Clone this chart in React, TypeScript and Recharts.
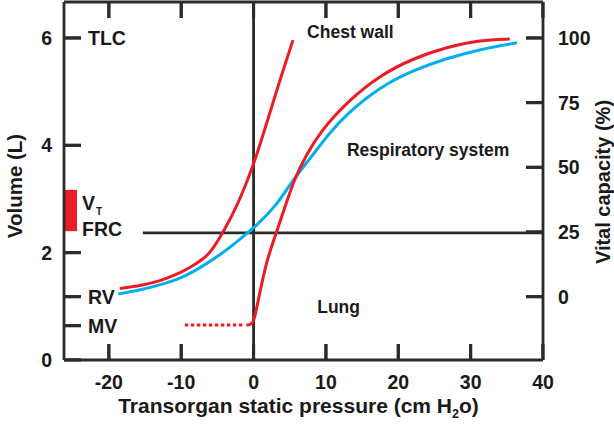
import React from 'react';
import {
  ComposedChart,
  Line,
  Scatter,
  XAxis,
  YAxis,
  ReferenceLine,
  ReferenceArea,
  ReferenceDot,
} from 'recharts';

// ---- axes / ticks ----
const pressureTicks = [-20, -10, 0, 10, 20, 30, 40];
const volumeTicks = [0, 0.64, 1.18, 2, 4, 6];
const volumeTickNumbers = ['0', '', '', '2', '4', '6'];
const volumeTickNames = ['', 'MV', 'RV', '', '', 'TLC'];
const vcTicks = [0, 25, 50, 75, 100];

// ---- key volumes (L) ----
const RV = 1.18;
const TLC = 6;
const FRC = 2.37;
const VT_TOP = 3.17;
const VT_BOTTOM = 2.4;

// ---- curves: pressure (cm H2O) vs volume (L) ----
const chestWall = [
  { p: -18.5, v: 1.33 },
  { p: -15.5, v: 1.39 },
  { p: -12.9, v: 1.47 },
  { p: -10.5, v: 1.6 },
  { p: -8.8, v: 1.72 },
  { p: -7.2, v: 1.86 },
  { p: -6, v: 1.99 },
  { p: -4.2, v: 2.38 },
  { p: -2.3, v: 2.86 },
  { p: -0.7, v: 3.4 },
  { p: 0.2, v: 3.72 },
  { p: 1.85, v: 4.43 },
  { p: 3.6, v: 5.2 },
  { p: 5.45, v: 5.96 },
];

const respiratorySystem = [
  { p: -18.7, v: 1.23 },
  { p: -15.8, v: 1.3 },
  { p: -12.9, v: 1.4 },
  { p: -10.5, v: 1.5 },
  { p: -8.3, v: 1.64 },
  { p: -4.6, v: 1.96 },
  { p: -2.5, v: 2.18 },
  { p: -0.95, v: 2.36 },
  { p: 0.2, v: 2.48 },
  { p: 3.2, v: 2.88 },
  { p: 5.5, v: 3.37 },
  { p: 7.8, v: 3.75 },
  { p: 10.3, v: 4.2 },
  { p: 12.9, v: 4.59 },
  { p: 17.5, v: 5.09 },
  { p: 22.1, v: 5.4 },
  { p: 26.7, v: 5.62 },
  { p: 31.3, v: 5.79 },
  { p: 36.4, v: 5.91 },
];

const lung = [
  { p: -1.0, v: 0.65 },
  { p: -0.3, v: 0.66 },
  { p: 0.1, v: 0.74 },
  { p: 0.65, v: 1.12 },
  { p: 1.8, v: 1.86 },
  { p: 3.2, v: 2.39 },
  { p: 4.5, v: 2.92 },
  { p: 5.8, v: 3.42 },
  { p: 7.2, v: 3.8 },
  { p: 9.2, v: 4.25 },
  { p: 12.9, v: 4.81 },
  { p: 17.5, v: 5.31 },
  { p: 22.1, v: 5.62 },
  { p: 26.7, v: 5.83 },
  { p: 31.3, v: 5.96 },
  { p: 35.4, v: 5.98 },
];

const lungCollapsed = [
  { p: -9.5, v: 0.65 },
  { p: -1.2, v: 0.65 },
];

// ---- domains ----
const P_MIN = -26.2;
const P_MAX = 40;
const V_MIN = 0;
const V_MAX = 6.67;
const vcDomain = [
  ((V_MIN - RV) / (TLC - RV)) * 100,
  ((V_MAX - RV) / (TLC - RV)) * 100,
];

// ---- tick mark anchor points (built from the tick arrays) ----
const bottomTickPts = pressureTicks.map((p) => ({ p, v: V_MIN }));
const topTickPts = pressureTicks.map((p) => ({ p, v: V_MAX }));
const leftTickPts = volumeTicks.map((v) => ({ p: P_MIN, v }));
const rightTickPts = vcTicks.map((c) => ({ p: P_MAX, v: RV + (c / 100) * (TLC - RV) }));

// ---- layout (px) ----
const CHART_W = 614;
const CHART_H = 432;
const TOP_H = 2;
const BOTTOM_H = 72;
const PLOT_H = CHART_H - TOP_H - BOTTOM_H;
const TICK_PX = 16;
const TICK_PX_H = 17;
// horizontal inward tick length in pressure units (~17 px)
const TICK_P = 2.35;

// ---- annotation anchors (data coords) ----
const FRC_LINE_START = -15.3;
const VT_BAR_RIGHT = -24.4;
const labelChestWall = { p: 7.4, v: 6.11 };
const labelResp = { p: 12.9, v: 3.91 };
const labelLung = { p: 8.8, v: 1.0 };
const labelVT = { p: -23.7, v: 2.92 };
const labelFRC = { p: -23.7, v: 2.45 };

const RED = '#ED1C24';
const BLUE = '#00AEEF';
const INK = '#1a1a1a';
const AXIS = '#2b2b2b';
const FONT = '"Liberation Sans", Arial, Helvetica, sans-serif';
const TICK_FS = 19.5;
const AXIS_W = 2.8;
const TICK_W = 3;

const txt = {
  fontWeight: 'bold' as const,
  fontFamily: FONT,
  fill: INK,
};

const tickShape = (dx: number, dy: number) => (props: any) => {
  const { cx, cy } = props;
  if (typeof cx !== 'number' || typeof cy !== 'number') return <g />;
  return (
    <line
      x1={cx}
      y1={cy}
      x2={cx + dx}
      y2={cy + dy}
      stroke={AXIS}
      strokeWidth={TICK_W}
    />
  );
};

const LeftTick = (props: any) => {
  const { x, y, payload } = props;
  const i = volumeTicks.indexOf(payload.value);
  return (
    <g>
      <text x={x - 12} y={y} dy="0.36em" textAnchor="end" fontSize={TICK_FS} {...txt}>
        {volumeTickNumbers[i]}
      </text>
      <text x={x + 24} y={y} dy="0.36em" textAnchor="start" fontSize={TICK_FS} {...txt}>
        {volumeTickNames[i]}
      </text>
    </g>
  );
};

const RightTick = (props: any) => {
  const { x, y, payload } = props;
  return (
    <text x={x + 15} y={y} dy="0.36em" textAnchor="start" fontSize={TICK_FS} {...txt}>
      {payload.value}
    </text>
  );
};

const BottomTick = (props: any) => {
  const { x, y, payload } = props;
  return (
    <text x={x} y={y + 15.5} dy="0.71em" textAnchor="middle" fontSize={TICK_FS} {...txt}>
      {payload.value}
    </text>
  );
};

const textLabel = (label: string, size: number) => (props: any) => {
  const vb = props.viewBox || {};
  return (
    <text x={vb.x} y={vb.y} dy="0.36em" textAnchor="start" fontSize={size} {...txt}>
      {label}
    </text>
  );
};

const vtLabel = (props: any) => {
  const vb = props.viewBox || {};
  return (
    <text x={vb.x} y={vb.y} dy="0.36em" textAnchor="start" fontSize={TICK_FS} {...txt}>
      V
      <tspan fontSize={10} dy={5} dx={1}>
        T
      </tspan>
    </text>
  );
};

const volumeTitle = (props: any) => {
  const vb = props.viewBox || { x: 0, y: 0, width: 64, height: PLOT_H };
  const cx = vb.x + 15;
  const cy = vb.y + vb.height / 2 + 5;
  return (
    <text
      x={cx}
      y={cy}
      transform={`rotate(-90, ${cx}, ${cy})`}
      textAnchor="middle"
      dy="0.36em"
      fontSize={20.5}
      {...txt}
    >
      Volume (L)
    </text>
  );
};

const vcTitle = (props: any) => {
  const vb = props.viewBox || { x: 543, y: 0, width: 71, height: PLOT_H };
  const cx = vb.x + 60;
  const cy = vb.y + vb.height / 2 + 1;
  return (
    <text
      x={cx}
      y={cy}
      transform={`rotate(-90, ${cx}, ${cy})`}
      textAnchor="middle"
      dy="0.36em"
      fontSize={20}
      {...txt}
    >
      Vital capacity (%)
    </text>
  );
};

const pressureTitle = (props: any) => {
  const vb = props.viewBox || { x: 64, y: 360, width: 479, height: BOTTOM_H };
  const cx = vb.x + vb.width / 2 - 5;
  const cy = vb.y + 45;
  return (
    <text x={cx} y={cy} textAnchor="middle" dy="0.36em" fontSize={21} {...txt}>
      Transorgan static pressure (cm H
      <tspan fontSize={12.5} dy={5}>
        2
      </tspan>
      <tspan dy={-5}>o)</tspan>
    </text>
  );
};

const tickStroke = { stroke: AXIS, strokeWidth: TICK_W, ifOverflow: 'visible' as const };
const verticalTickDash = `${TICK_PX} ${PLOT_H - 2 * TICK_PX} ${TICK_PX} ${PLOT_H}`;

export default function App() {
  return (
    <div style={{ position: 'absolute', left: 0, top: 0, background: '#fff' }}>
      <ComposedChart
        width={CHART_W}
        height={CHART_H}
        margin={{ top: 0, right: 0, bottom: 0, left: 0 }}
      >
        <XAxis
          xAxisId="bottom"
          dataKey="p"
          type="number"
          domain={[P_MIN, P_MAX]}
          ticks={pressureTicks}
          interval={0}
          allowDataOverflow
          height={BOTTOM_H}
          tickSize={0}
          tickMargin={0}
          tickLine={false}
          stroke={AXIS}
          strokeWidth={AXIS_W}
          tick={<BottomTick />}
          label={pressureTitle}
        />
        <XAxis
          xAxisId="top"
          orientation="top"
          dataKey="p"
          type="number"
          domain={[P_MIN, P_MAX]}
          ticks={pressureTicks}
          interval={0}
          allowDataOverflow
          height={TOP_H}
          tick={false}
          tickLine={false}
          stroke={AXIS}
          strokeWidth={AXIS_W}
        />
        <YAxis
          yAxisId="left"
          dataKey="v"
          type="number"
          domain={[V_MIN, V_MAX]}
          ticks={volumeTicks}
          interval={0}
          allowDataOverflow
          width={64}
          tickSize={0}
          tickMargin={0}
          tickLine={false}
          stroke={AXIS}
          strokeWidth={AXIS_W}
          tick={<LeftTick />}
          label={volumeTitle}
        />
        <YAxis
          yAxisId="right"
          orientation="right"
          type="number"
          domain={vcDomain}
          ticks={vcTicks}
          interval={0}
          allowDataOverflow
          width={71}
          tickSize={0}
          tickMargin={0}
          tickLine={false}
          stroke={AXIS}
          strokeWidth={AXIS_W}
          tick={<RightTick />}
          label={vcTitle}
        />

        <ReferenceArea
          xAxisId="bottom"
          yAxisId="left"
          x1={P_MIN}
          x2={VT_BAR_RIGHT}
          y1={VT_BOTTOM}
          y2={VT_TOP}
          fill={RED}
          fillOpacity={1}
          stroke="none"
        />

        {pressureTicks.map((p) => (
          <ReferenceLine
            key={`vt${p}`}
            xAxisId="bottom"
            yAxisId="left"
            x={p}
            stroke={AXIS}
            strokeWidth={TICK_W}
            strokeDasharray={verticalTickDash}
            ifOverflow="visible"
          />
        ))}
        {volumeTicks.map((v) => (
          <ReferenceLine
            key={`l${v}`}
            xAxisId="bottom"
            yAxisId="left"
            segment={[
              { x: P_MIN, y: v },
              { x: P_MIN + TICK_P, y: v },
            ]}
            {...tickStroke}
          />
        ))}
        {vcTicks.map((c) => (
          <ReferenceLine
            key={`r${c}`}
            xAxisId="bottom"
            yAxisId="right"
            segment={[
              { x: P_MAX - TICK_P, y: c },
              { x: P_MAX, y: c },
            ]}
            {...tickStroke}
          />
        ))}

        <ReferenceLine xAxisId="bottom" yAxisId="left" x={0} stroke={AXIS} strokeWidth={AXIS_W} />
        <ReferenceLine
          xAxisId="bottom"
          yAxisId="left"
          segment={[
            { x: FRC_LINE_START, y: FRC },
            { x: P_MAX, y: FRC },
          ]}
          stroke={AXIS}
          strokeWidth={AXIS_W}
        />

        <Scatter
          xAxisId="bottom"
          yAxisId="left"
          data={bottomTickPts}
          dataKey="v"
          shape={tickShape(0, -TICK_PX)}
          legendType="none"
          isAnimationActive={false}
        />
        <Scatter
          xAxisId="bottom"
          yAxisId="left"
          data={topTickPts}
          dataKey="v"
          shape={tickShape(0, TICK_PX)}
          legendType="none"
          isAnimationActive={false}
        />
        <Scatter
          xAxisId="bottom"
          yAxisId="left"
          data={leftTickPts}
          dataKey="v"
          shape={tickShape(TICK_PX_H, 0)}
          legendType="none"
          isAnimationActive={false}
        />
        <Scatter
          xAxisId="bottom"
          yAxisId="left"
          data={rightTickPts}
          dataKey="v"
          shape={tickShape(-TICK_PX_H, 0)}
          legendType="none"
          isAnimationActive={false}
        />

        <Line
          xAxisId="bottom"
          yAxisId="left"
          data={respiratorySystem}
          dataKey="v"
          type="basis"
          stroke={BLUE}
          strokeWidth={3}
          dot={false}
          activeDot={false}
          isAnimationActive={false}
        />
        <Line
          xAxisId="bottom"
          yAxisId="left"
          data={chestWall}
          dataKey="v"
          type="basis"
          stroke={RED}
          strokeWidth={3}
          dot={false}
          activeDot={false}
          isAnimationActive={false}
        />
        <Line
          xAxisId="bottom"
          yAxisId="left"
          data={lung}
          dataKey="v"
          type="basis"
          stroke={RED}
          strokeWidth={3}
          dot={false}
          activeDot={false}
          isAnimationActive={false}
        />
        <Line
          xAxisId="bottom"
          yAxisId="left"
          data={lungCollapsed}
          dataKey="v"
          type="linear"
          stroke={RED}
          strokeWidth={3}
          strokeDasharray="3.5 2.5"
          dot={false}
          activeDot={false}
          isAnimationActive={false}
        />

        <ReferenceDot
          xAxisId="bottom"
          yAxisId="left"
          x={labelChestWall.p}
          y={labelChestWall.v}
          r={0}
          fill="none"
          stroke="none"
          label={textLabel('Chest wall', 17.5)}
        />
        <ReferenceDot
          xAxisId="bottom"
          yAxisId="left"
          x={labelResp.p}
          y={labelResp.v}
          r={0}
          fill="none"
          stroke="none"
          label={textLabel('Respiratory system', 17.5)}
        />
        <ReferenceDot
          xAxisId="bottom"
          yAxisId="left"
          x={labelLung.p}
          y={labelLung.v}
          r={0}
          fill="none"
          stroke="none"
          label={textLabel('Lung', 17.5)}
        />
        <ReferenceDot
          xAxisId="bottom"
          yAxisId="left"
          x={labelVT.p}
          y={labelVT.v}
          r={0}
          fill="none"
          stroke="none"
          label={vtLabel}
        />
        <ReferenceDot
          xAxisId="bottom"
          yAxisId="left"
          x={labelFRC.p}
          y={labelFRC.v}
          r={0}
          fill="none"
          stroke="none"
          label={textLabel('FRC', TICK_FS)}
        />
      </ComposedChart>
    </div>
  );
}
